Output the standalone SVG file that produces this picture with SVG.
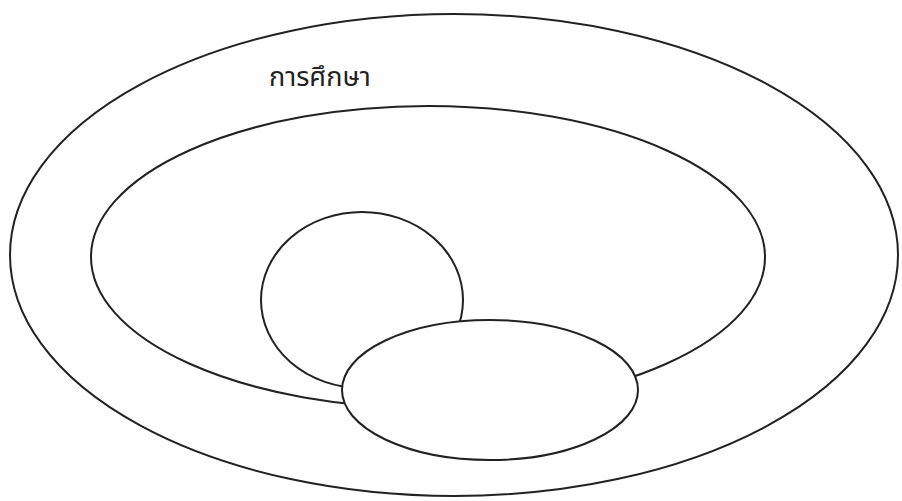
<svg xmlns="http://www.w3.org/2000/svg" width="902" height="501" viewBox="0 0 902 501">
<style>
.s{fill:#fff;stroke:#222;stroke-width:2}
.t{font-family:"Noto Sans Thai","Noto Sans","DejaVu Sans",sans-serif;font-size:27px;fill:#222}
</style>
<rect width="902" height="501" fill="#fff"/>
<g id="outer"><ellipse class="s" cx="454" cy="255" rx="444" ry="241"/><text class="t" x="269" y="86">การศึกษา</text></g>
<g id="inner"><ellipse class="s" cx="428" cy="257" rx="337" ry="151"/></g>
<g id="circle"><ellipse class="s" cx="362" cy="300" rx="101" ry="88"/></g>
<g id="small"><ellipse class="s" cx="490" cy="390" rx="148" ry="70"/></g>
<g id="connectors"></g>
</svg>
